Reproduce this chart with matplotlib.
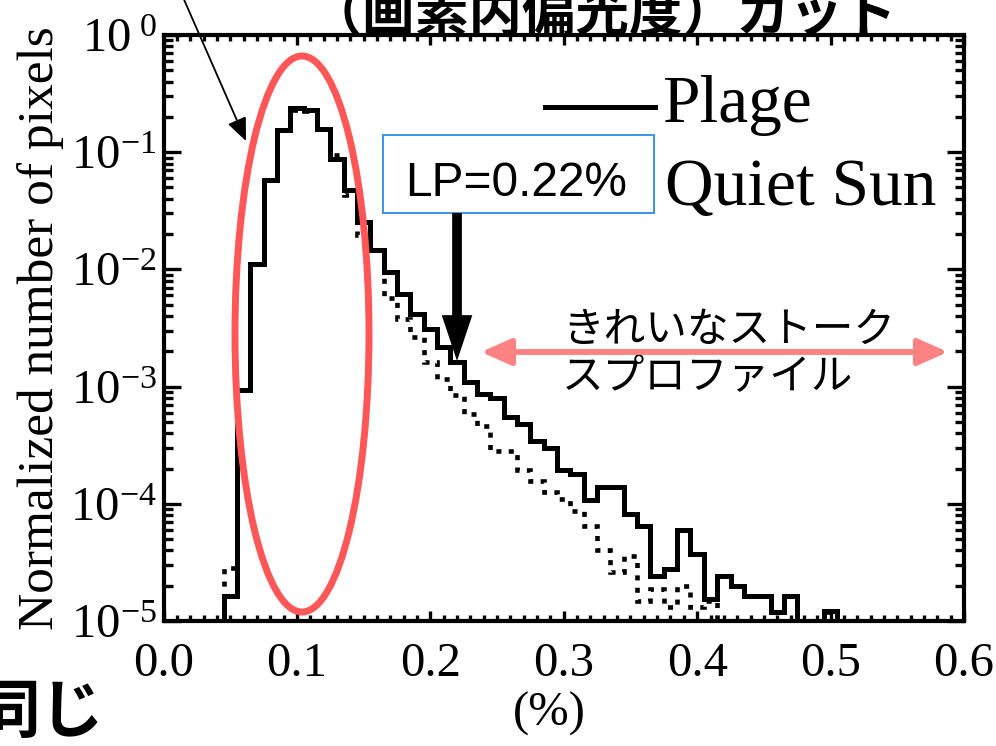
import numpy as np
import matplotlib
matplotlib.use('Agg')
import matplotlib.pyplot as plt
from matplotlib.patches import Ellipse, Rectangle, FancyArrowPatch, ArrowStyle
from matplotlib.transforms import Affine2D
from matplotlib.ticker import LogLocator, MultipleLocator, FuncFormatter, NullFormatter
from matplotlib.lines import Line2D

plt.rcParams['font.family'] = ['Liberation Serif', 'Noto Sans CJK JP', 'DejaVu Sans']
plt.rcParams['mathtext.fontset'] = 'custom'
plt.rcParams['mathtext.rm'] = 'Liberation Serif'
plt.rcParams['mathtext.it'] = 'Liberation Serif:italic'
plt.rcParams['mathtext.bf'] = 'Liberation Serif:bold'
plt.rcParams['axes.unicode_minus'] = False

# ---- data (histograms, bin width 0.01 %) ----
bin_centers = [0.04, 0.05, 0.06, 0.07, 0.08, 0.09, 0.10, 0.11, 0.12, 0.13,
               0.14, 0.15, 0.16, 0.17, 0.18, 0.19, 0.20, 0.21, 0.22, 0.23,
               0.24, 0.25, 0.26, 0.27, 0.28, 0.29, 0.30, 0.31, 0.32, 0.33,
               0.34, 0.35, 0.36, 0.37, 0.38, 0.39, 0.40, 0.41, 0.42, 0.43,
               0.44, 0.45, 0.46, 0.47, 0.48, 0.49, 0.50, 0.51, 0.52]
plage = [0, 1.64e-5, 9.3e-4, 0.0112, 0.0577, 0.154, 0.236, 0.23, 0.159, 0.0883,
         0.0473, 0.0254, 0.0145, 0.0095, 0.0062, 0.00418, 0.00311, 0.00217, 0.00161, 0.00109,
         8.65e-4, 8.0e-4, 5.5e-4, 4.8e-4, 3.45e-4, 3.0e-4, 1.95e-4, 1.8e-4, 1.08e-4, 1.38e-4,
         1.38e-4, 8.2e-5, 6.5e-5, 2.43e-5, 2.77e-5, 6.0e-5, 3.7e-5, 1.55e-5, 2.43e-5, 2.0e-5,
         1.65e-5, 1.65e-5, 1.2e-5, 1.65e-5, 0, 0, 1.22e-5, 0, 0]
quiet = [0, 2.86e-5, 9.3e-4, 0.0112, 0.0577, 0.154, 0.23, 0.225, 0.159, 0.095,
         0.043, 0.0195, 0.0145, 0.00565, 0.00379, 0.00264, 0.00162, 0.00115, 8.4e-4, 5.85e-4,
         4.64e-4, 2.84e-4, 2.84e-4, 1.94e-4, 1.57e-4, 1.25e-4, 1.1e-4, 8.7e-5, 6.5e-5, 4.0e-5,
         2.6e-5, 3.6e-5, 1.48e-5, 1.87e-5, 1.31e-5, 2.0e-5, 1.31e-5, 1.48e-5, 0, 0,
         0, 0, 0, 0, 0, 0, 1.2e-5, 0, 0]
bin_width = 0.01
x_ticks = [0.0, 0.1, 0.2, 0.3, 0.4, 0.5, 0.6]
x_tick_labels = ['0.0', '0.1', '0.2', '0.3', '0.4', '0.5', '0.6']
legend_labels = ['Plage', 'Quiet Sun']
lp_text = 'LP=0.22%'
lp_value = 0.22
jp_note = 'きれいなストーク\nスプロファイル'
top_fragment = '（画素内偏光度）カット'
bottom_fragment = '同じ'

W, H = 996, 746
fig = plt.figure(figsize=(W / 100, H / 100), dpi=100)
fig.patch.set_facecolor('white')
# pixel coordinates (origin top-left) -> display
PX = Affine2D().scale(1.0 / W, -1.0 / H).translate(0, 1) + fig.transFigure

ax = fig.add_axes([163.5 / W, 1 - 621 / H, (964 - 163.5) / W, (621 - 35) / H])

centers = np.array(bin_centers)
edges = np.concatenate([centers - bin_width / 2, [centers[-1] + bin_width / 2]])
floor = 1e-9
p_vals = np.where(np.array(plage) > 0, plage, floor)
q_vals = np.where(np.array(quiet) > 0, quiet, floor)

ax.stairs(q_vals, edges, baseline=floor, color='black', lw=3.3,
          linestyle=(0, (1.1, 1.6)), zorder=3)
ax.stairs(p_vals, edges, baseline=floor, color='black', lw=3.6, zorder=4)

ax.set_yscale('log')
ax.set_xlim(0, 0.6)
ax.set_ylim(1e-5, 1)
ax.set_xticks(x_ticks)
ax.set_xticklabels(x_tick_labels)
ax.xaxis.set_minor_locator(MultipleLocator(0.01))
ax.yaxis.set_major_locator(LogLocator(base=10, numticks=10))
ax.yaxis.set_minor_locator(LogLocator(base=10, subs=np.arange(2, 10), numticks=20))


def ylab(v, pos):
    e = int(round(np.log10(v)))
    if e < 0:
        return r'$\mathregular{10^{-%d}}$' % (-e)
    return r'$\mathregular{10^{\ %d}}$' % e


ax.yaxis.set_major_formatter(FuncFormatter(ylab))
ax.yaxis.set_minor_formatter(NullFormatter())

for s in ax.spines.values():
    s.set_linewidth(3.0)
ax.tick_params(which='both', direction='in', top=True, right=True, width=2.4, colors='black')
ax.tick_params(axis='x', which='major', length=7.5, pad=15, labelsize=35)
ax.tick_params(axis='x', which='minor', length=4)
ax.tick_params(axis='y', which='major', length=12, pad=5, labelsize=35)
ax.tick_params(axis='y', which='minor', length=6.5)

ax.set_xlabel('(%)', fontsize=35)
ax.xaxis.set_label_coords((549 - 163.5) / (964 - 163.5), -(714 - 621) / (621 - 35))
ax.xaxis.label.set_va('center')
ax.set_ylabel('Normalized number of pixels', fontsize=37, labelpad=4)

# legend (manual, IDL style)
fig.add_artist(Line2D([545, 655], [107, 107], transform=PX, color='black', lw=3.6))
fig.add_artist(Line2D([545, 655], [187, 187], transform=PX, color='black', lw=3.3,
                      linestyle=(0, (1.1, 1.6))))
fig.text(662 / W, 1 - 122 / H, legend_labels[0], fontsize=48.5, va='baseline', ha='left')
fig.text(665 / W, 1 - 205 / H, legend_labels[1], fontsize=48.5, va='baseline', ha='left')

# red ellipse
fig.add_artist(Ellipse((302, 334), 134, 556, transform=PX, fill=False,
                       edgecolor='#FF5757', lw=5.0, zorder=6))

# thin arrow pointing at the histogram
fig.add_artist(FancyArrowPatch((182, -5), (246, 141), transform=PX,
                               arrowstyle=ArrowStyle('-|>', head_length=14, head_width=6),
                               mutation_scale=1, color='black', lw=1.3,
                               shrinkA=0, shrinkB=0, zorder=7))

# LP box
fig.add_artist(Rectangle((383, 135), 271, 78, transform=PX, facecolor='white',
                         edgecolor='#3D94E8', lw=1.4, zorder=8))
fig.text(516 / W, 1 - 183 / H, lp_text, fontsize=34.5, family=['Liberation Sans'],
         ha='center', va='center', zorder=9)

# thick black arrow at LP value (x from data coords)
x_lp_disp = ax.transData.transform((lp_value, 1))[0]
x_lp_px = x_lp_disp * W / fig.bbox.width
fig.add_artist(FancyArrowPatch((x_lp_px, 213), (x_lp_px, 361), transform=PX,
                               arrowstyle=ArrowStyle('simple', head_length=33, head_width=22,
                                                     tail_width=7),
                               mutation_scale=1, facecolor='black', edgecolor='none',
                               shrinkA=0, shrinkB=0, zorder=9))

# pink double arrow
fig.add_artist(FancyArrowPatch((481, 352), (948, 352), transform=PX,
                               arrowstyle=ArrowStyle('<|-|>', head_length=18, head_width=8),
                               mutation_scale=1, color='#FF8282', lw=4.2,
                               shrinkA=0, shrinkB=0, zorder=7))

fig.text(562 / W, 1 - 354 / H, jp_note, fontsize=30, family=['Noto Sans CJK JP'],
         ha='left', va='center', linespacing=1.22)

# cut-off text fragments at the slide edges (top and bottom left)
fig.text(309 / W, 1 - 32 / H, top_fragment, fontsize=38.5, family=['Noto Sans CJK JP'],
         weight='bold', ha='left', va='baseline')
fig.text(104 / W, 1 - 680 / H, bottom_fragment, fontsize=46, family=['Noto Sans CJK JP'],
         weight='bold', ha='right', va='top')

fig.savefig('out.png', dpi=100, facecolor='white')
